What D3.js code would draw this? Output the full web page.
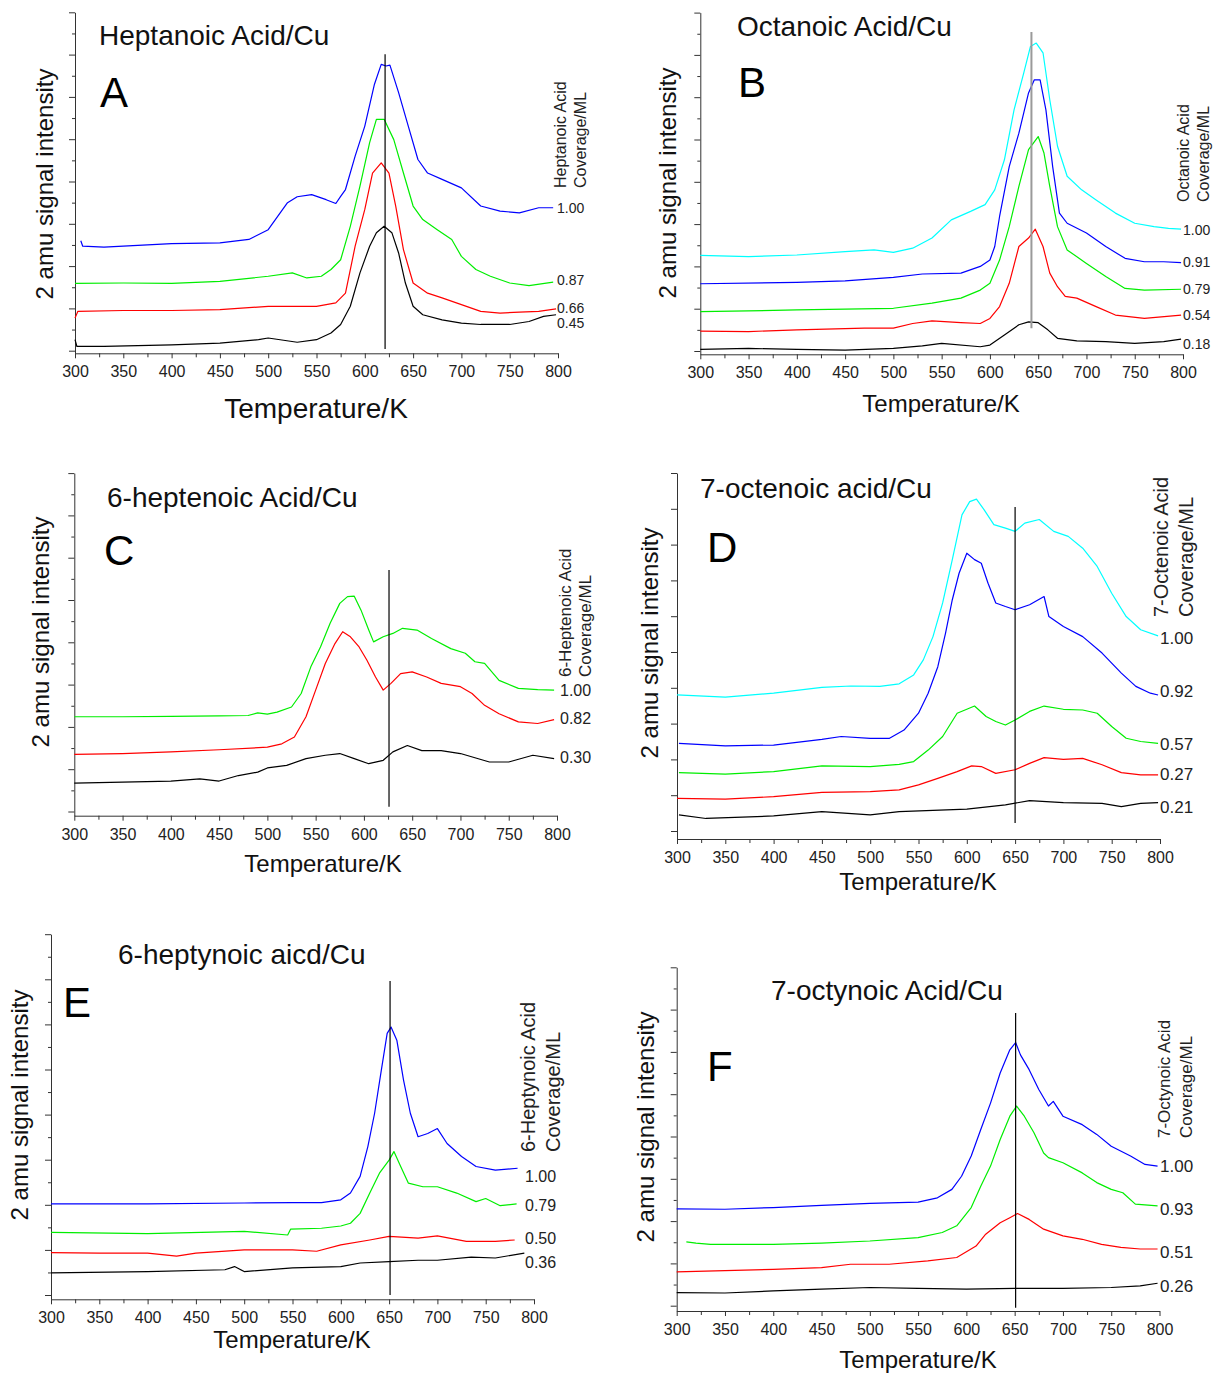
<!DOCTYPE html>
<html><head><meta charset="utf-8">
<script src="https://cdn.jsdelivr.net/npm/d3@7"></script>
<style>
body{margin:0;background:#fff}
svg{display:block}
text{font-family:"Liberation Sans",Arial,Helvetica,sans-serif}
</style>
</head><body>
<svg id="chart" width="1216" height="1374"></svg>
<script>
// ---------------- DATA ----------------
const panelTitles = ["Heptanoic Acid/Cu","Octanoic Acid/Cu","6-heptenoic Acid/Cu","7-octenoic acid/Cu","6-heptynoic aicd/Cu","7-octynoic Acid/Cu"];
const panelLetters = ["A","B","C","D","E","F"];
const legendNames = ["Heptanoic Acid","Octanoic Acid","6-Heptenoic Acid","7-Octenoic Acid","6-Heptynoic Acid","7-Octynoic Acid"];
const legendUnit = "Coverage/ML";
const xLabel = "Temperature/K";
const yLabel = "2 amu signal intensity";
const xTickValues = [300,350,400,450,500,550,600,650,700,750,800];
const peakTemps = [621,643,626,650,651,651];
const peakSpans = [[0.04,7.01],[0.54,7.54],[0.11,5.71],[0.22,9.05],[0.0,6.96],[-0.05,6.92]];

const coverageA = ["1.00","0.87","0.66","0.45"];
const coverageB = ["1.00","0.91","0.79","0.54","0.18"];
const coverageC = ["1.00","0.82","0.30"];
const coverageD = ["1.00","0.92","0.57","0.27","0.21"];
const coverageE = ["1.00","0.79","0.50","0.36"];
const coverageF = ["1.00","0.93","0.51","0.26"];

// Panel A: heptanoic acid  [T (K), intensity (tick units)]
const heptanoic100 = [[306,2.6],[308,2.47],[330,2.45],[350,2.47],[400,2.53],[450,2.55],[480,2.63],[500,2.86],[520,3.5],[530,3.64],[545,3.69],[560,3.57],[570,3.48],[575,3.65],[580,3.81],[590,4.6],[600,5.31],[610,6.3],[617,6.77],[622,6.73],[626,6.75],[635,6.1],[645,5.31],[655,4.52],[665,4.2],[680,4.05],[700,3.85],[720,3.42],[740,3.3],[760,3.26],[780,3.38],[795,3.38]];
const heptanoic087 = [[300,1.59],[350,1.6],[400,1.59],[450,1.64],[500,1.76],[525,1.84],[540,1.72],[555,1.76],[565,1.92],[575,2.15],[585,2.94],[595,3.89],[605,4.92],[612,5.47],[620,5.47],[630,4.99],[640,4.2],[650,3.42],[660,3.1],[675,2.86],[690,2.63],[700,2.23],[715,1.92],[730,1.76],[750,1.6],[770,1.54],[795,1.62]];
const heptanoic066 = [[300,0.77],[303,0.93],[350,0.95],[400,0.95],[450,0.97],[500,1.05],[550,1.05],[570,1.13],[580,1.36],[590,2.47],[600,3.34],[608,4.2],[617,4.44],[625,4.2],[632,3.42],[640,2.39],[650,1.6],[665,1.36],[680,1.25],[700,1.09],[720,0.93],[740,0.89],[760,0.91],[780,0.93],[798,0.99]];
const heptanoic045 = [[300,0.26],[302,0.1],[330,0.1],[400,0.14],[450,0.18],[490,0.26],[500,0.3],[530,0.2],[550,0.26],[565,0.42],[575,0.62],[585,1.05],[595,1.84],[605,2.47],[612,2.79],[620,2.94],[628,2.79],[635,2.31],[642,1.6],[650,1.05],[660,0.85],[680,0.73],[700,0.65],[720,0.62],[750,0.62],[770,0.69],[785,0.81],[798,0.85]];

// Panel B: octanoic acid
const octanoic100 = [[300,2.26],[350,2.23],[400,2.27],[450,2.35],[480,2.39],[500,2.33],[520,2.43],[540,2.67],[560,3.1],[580,3.3],[595,3.46],[605,3.81],[615,4.52],[625,5.7],[635,6.57],[642,7.2],[648,7.28],[655,7.05],[662,5.94],[670,4.84],[680,4.13],[695,3.81],[710,3.57],[730,3.26],[750,3.02],[770,2.94],[785,2.9],[798,2.88]];
const octanoic091 = [[300,1.59],[400,1.62],[450,1.66],[500,1.74],[530,1.82],[570,1.84],[590,2.0],[600,2.15],[605,2.47],[610,3.18],[620,4.36],[630,5.15],[640,6.1],[646,6.41],[652,6.41],[658,5.7],[665,4.36],[672,3.26],[680,3.02],[700,2.79],[720,2.47],[740,2.19],[760,2.11],[780,2.11],[798,2.09]];
const octanoic079 = [[300,0.93],[400,0.97],[500,1.01],[540,1.13],[570,1.25],[590,1.44],[600,1.6],[610,2.15],[620,2.94],[630,3.89],[640,4.76],[650,5.07],[656,4.68],[662,3.89],[670,2.94],[680,2.39],[700,2.07],[720,1.76],[740,1.48],[760,1.44],[798,1.46]];
const octanoic054 = [[300,0.47],[350,0.46],[400,0.5],[470,0.54],[500,0.54],[520,0.65],[540,0.71],[570,0.67],[590,0.65],[600,0.77],[610,1.05],[620,1.6],[630,2.47],[640,2.67],[647,2.88],[655,2.47],[662,1.84],[670,1.52],[678,1.29],[690,1.25],[710,1.05],[730,0.85],[760,0.77],[798,0.85]];
const octanoic018 = [[300,0.04],[350,0.06],[400,0.04],[450,0.02],[500,0.06],[530,0.12],[550,0.18],[590,0.1],[600,0.14],[615,0.38],[630,0.62],[640,0.69],[650,0.67],[660,0.5],[670,0.3],[690,0.24],[720,0.22],[750,0.18],[780,0.22],[798,0.28]];

// Panel C: 6-heptenoic acid
const heptenoic100 = [[300,2.24],[350,2.24],[400,2.25],[450,2.26],[480,2.27],[490,2.33],[500,2.3],[510,2.35],[525,2.47],[535,2.79],[545,3.42],[555,3.89],[565,4.45],[575,4.92],[583,5.08],[590,5.09],[597,4.76],[605,4.29],[610,4.01],[620,4.13],[630,4.21],[640,4.33],[655,4.29],[670,4.09],[690,3.85],[705,3.74],[715,3.54],[725,3.5],[740,3.1],[760,2.91],[780,2.88],[797,2.87]];
const heptenoic082 = [[300,1.35],[350,1.37],[400,1.41],[450,1.46],[500,1.52],[515,1.6],[528,1.76],[540,2.24],[550,2.87],[560,3.5],[570,3.97],[578,4.25],[586,4.13],[595,3.89],[603,3.58],[612,3.18],[620,2.87],[628,3.03],[638,3.26],[650,3.3],[665,3.18],[680,3.03],[700,2.95],[712,2.79],[725,2.51],[740,2.31],[760,2.12],[780,2.08],[797,2.17]];
const heptenoic030 = [[300,0.67],[400,0.72],[430,0.77],[450,0.72],[470,0.85],[490,0.93],[500,1.03],[520,1.09],[540,1.25],[560,1.33],[575,1.37],[590,1.25],[605,1.13],[620,1.21],[630,1.41],[645,1.56],[660,1.44],[680,1.44],[700,1.37],[730,1.17],[750,1.17],[775,1.33],[797,1.25]];

// Panel D: 7-octenoic acid
const octenoic100 = [[300,3.8],[350,3.74],[400,3.85],[450,4.01],[480,4.05],[510,4.04],[530,4.11],[545,4.36],[555,4.78],[565,5.43],[575,6.37],[585,7.58],[595,8.83],[603,9.2],[610,9.27],[618,8.97],[628,8.56],[640,8.46],[650,8.37],[660,8.6],[675,8.7],[690,8.37],[705,8.23],[720,7.9],[735,7.39],[750,6.64],[765,5.99],[780,5.62],[798,5.45]];
const octenoic092 = [[302,2.45],[350,2.38],[400,2.4],[450,2.56],[470,2.64],[500,2.59],[520,2.59],[535,2.82],[550,3.29],[560,3.85],[570,4.59],[578,5.53],[585,6.46],[592,7.2],[600,7.76],[608,7.58],[615,7.48],[622,6.92],[630,6.37],[640,6.27],[650,6.18],[665,6.32],[680,6.55],[685,5.99],[700,5.71],[720,5.43],[740,4.97],[760,4.41],[775,4.04],[790,3.85],[798,3.8]];
const octenoic057 = [[302,1.63],[350,1.59],[400,1.66],[450,1.82],[500,1.8],[530,1.86],[545,1.94],[560,2.26],[575,2.64],[590,3.29],[600,3.4],[608,3.49],[620,3.2],[630,3.06],[640,2.96],[650,3.1],[665,3.34],[680,3.49],[700,3.4],[720,3.38],[735,3.29],[750,2.92],[765,2.59],[780,2.5],[798,2.45]];
const octenoic027 = [[300,0.91],[350,0.89],[400,0.96],[450,1.08],[500,1.1],[530,1.15],[550,1.29],[570,1.47],[590,1.66],[605,1.82],[615,1.8],[630,1.61],[650,1.71],[665,1.89],[680,2.05],[700,2.0],[720,2.03],[740,1.85],[760,1.63],[780,1.57],[798,1.57]];
const octenoic021 = [[302,0.45],[330,0.35],[400,0.42],[450,0.54],[500,0.45],[530,0.54],[600,0.61],[640,0.73],[665,0.85],[700,0.79],[740,0.77],[760,0.68],[780,0.77],[798,0.79]];

// Panel E: 6-heptynoic acid
const heptynoic100 = [[300,2.02],[400,2.02],[500,2.04],[550,2.05],[580,2.05],[600,2.11],[610,2.26],[620,2.63],[628,3.29],[635,4.03],[642,4.99],[648,5.8],[652,5.94],[658,5.65],[665,4.76],[672,4.03],[680,3.51],[690,3.58],[700,3.69],[710,3.36],[725,3.07],[740,2.85],[760,2.77],[783,2.81]];
const heptynoic079 = [[300,1.39],[400,1.36],[500,1.41],[545,1.33],[548,1.46],[580,1.48],[600,1.53],[610,1.59],[620,1.81],[630,2.26],[640,2.7],[650,2.99],[655,3.18],[662,2.85],[670,2.48],[685,2.4],[700,2.4],[720,2.26],[740,2.07],[750,2.14],[765,1.98],[782,2.02]];
const heptynoic050 = [[300,0.94],[350,0.93],[400,0.93],[430,0.86],[450,0.93],[500,1.0],[550,1.0],[575,0.97],[600,1.11],[630,1.22],[650,1.3],[680,1.26],[700,1.31],[730,1.19],[760,1.19],[780,1.22]];
const heptynoic036 = [[300,0.49],[400,0.52],[480,0.56],[490,0.63],[500,0.52],[550,0.6],[600,0.63],[620,0.71],[650,0.74],[680,0.77],[700,0.77],[735,0.84],[760,0.82],[790,0.93]];

// Panel F: 7-octynoic acid
const octynoic100 = [[300,2.29],[350,2.28],[400,2.32],[450,2.37],[500,2.42],[550,2.45],[570,2.55],[585,2.75],[595,3.06],[605,3.54],[615,4.17],[625,4.79],[635,5.5],[645,6.05],[651,6.22],[656,5.93],[665,5.58],[675,5.11],[685,4.72],[690,4.83],[700,4.48],[720,4.28],[735,4.05],[750,3.77],[770,3.54],[785,3.34],[798,3.3]];
const octynoic093 = [[310,1.51],[320,1.48],[335,1.45],[400,1.45],[450,1.48],[500,1.53],[550,1.61],[575,1.73],[590,1.89],[605,2.32],[615,2.83],[625,3.3],[635,3.93],[645,4.48],[652,4.72],[660,4.48],[670,4.09],[680,3.61],[685,3.5],[700,3.38],[720,3.14],[735,2.91],[750,2.75],[762,2.67],[775,2.4],[798,2.36]];
const octynoic051 = [[300,0.8],[350,0.83],[400,0.86],[450,0.9],[480,0.98],[520,0.98],[560,1.06],[590,1.14],[610,1.41],[620,1.69],[635,1.96],[645,2.08],[653,2.18],[665,2.04],[680,1.81],[700,1.65],[720,1.57],[740,1.45],[760,1.38],[780,1.34],[798,1.34]];
const octynoic026 = [[300,0.31],[350,0.3],[400,0.35],[450,0.39],[500,0.43],[550,0.41],[600,0.39],[650,0.41],[700,0.41],[750,0.43],[780,0.47],[798,0.53]];

const seriesA = [heptanoic100, heptanoic087, heptanoic066, heptanoic045];
const seriesB = [octanoic100, octanoic091, octanoic079, octanoic054, octanoic018];
const seriesC = [heptenoic100, heptenoic082, heptenoic030];
const seriesD = [octenoic100, octenoic092, octenoic057, octenoic027, octenoic021];
const seriesE = [heptynoic100, heptynoic079, heptynoic050, heptynoic036];
const seriesF = [octynoic100, octynoic093, octynoic051, octynoic026];

// ---------------- STYLE / LAYOUT ----------------
const C = {blue:"#0000ff", green:"#00ee00", red:"#ff0000", black:"#000000", cyan:"#00ffff"};
const colorsA = [C.blue, C.green, C.red, C.black];
const colorsB = [C.cyan, C.blue, C.green, C.red, C.black];
const colorsC = [C.green, C.red, C.black];
const colorsD = [C.cyan, C.blue, C.green, C.red, C.black];
const colorsE = [C.blue, C.green, C.red, C.black];
const colorsF = [C.blue, C.green, C.red, C.black];

const layout = [
 {left:75, right:558, axisY:353.3, tick0Y:350.7, unit:42.3, nMajor:8, minor:true,
  titleX:99, titleY:45, letterX:100, letterY:107, ylabX:53, ylabY:184, xlabX:316, xlabY:418, xlabSize:28,
  legX1:566, legX2:586, legY:188, legSize:16, covX:557, covY:[208,280,308,323], covSize:14, vColor:"#000", vWidth:1.2},
 {left:700.3, right:1183, axisY:354.3, tick0Y:351, unit:42.3, nMajor:8, minor:true,
  titleX:737, titleY:36, letterX:738, letterY:97, ylabX:676, ylabY:183, xlabX:941, xlabY:412, xlabSize:24,
  legX1:1189, legX2:1209, legY:202, legSize:16, covX:1183, covY:[230,262,289,315,344], covSize:14, vColor:"#9a9a9a", vWidth:2},
 {left:74.3, right:557, axisY:815.7, tick0Y:811.5, unit:42.3, nMajor:8, minor:true,
  titleX:107, titleY:507, letterX:104, letterY:565, ylabX:49, ylabY:632, xlabX:323, xlabY:872, xlabSize:24,
  legX1:571, legX2:591, legY:677, legSize:17, covX:560, covY:[690,718,757], covSize:16, vColor:"#000", vWidth:1.2},
 {left:677, right:1160, axisY:839, tick0Y:831, unit:35.8, nMajor:10, minor:false,
  titleX:700, titleY:498, letterX:707, letterY:562, ylabX:658, ylabY:643, xlabX:918, xlabY:890, xlabSize:24,
  legX1:1168, legX2:1193, legY:617, legSize:20, covX:1160, covY:[638,691,744,774,807], covSize:17, vColor:"#000", vWidth:1.2},
 {left:51, right:534, axisY:1299.3, tick0Y:1295, unit:45.1, nMajor:8, minor:true,
  titleX:118, titleY:964, letterX:63, letterY:1017, ylabX:28, ylabY:1105, xlabX:292, xlabY:1348, xlabSize:24,
  legX1:535, legX2:560, legY:1152, legSize:20, covX:525, covY:[1176,1205,1238,1262], covSize:16, vColor:"#000", vWidth:1.2},
 {left:676.7, right:1159.5, axisY:1311, tick0Y:1305.7, unit:42.3, nMajor:8, minor:true,
  titleX:771, titleY:1000, letterX:707, letterY:1081, ylabX:654, ylabY:1127, xlabX:918, xlabY:1368, xlabSize:24,
  legX1:1170, legX2:1192, legY:1138, legSize:17, covX:1160, covY:[1166,1209,1252,1286], covSize:17, vColor:"#000", vWidth:1.2}
];

const allSeries = [seriesA, seriesB, seriesC, seriesD, seriesE, seriesF];
const allColors = [colorsA, colorsB, colorsC, colorsD, colorsE, colorsF];
const allCoverage = [coverageA, coverageB, coverageC, coverageD, coverageE, coverageF];

// ---------------- DRAW ----------------
const svg = d3.select("#chart");
const axisColor = "#333";

layout.forEach((p, i) => {
  const g = svg.append("g");
  const x = d3.scaleLinear().domain([300, 800]).range([p.left, p.right]);
  const vmin = (p.tick0Y - p.axisY) / p.unit;
  const yTop = p.tick0Y - p.nMajor * p.unit;
  const y = d3.scaleLinear().domain([vmin, p.nMajor]).range([p.axisY, yTop]);

  // x axis
  const xTicksAll = d3.range(300, 801, 25);
  const xa = d3.axisBottom(x).tickValues(xTicksAll).tickSize(5).tickSizeOuter(0)
    .tickFormat(d => xTickValues.includes(d) ? d : "");
  const gx = g.append("g").attr("transform", `translate(0,${p.axisY})`).call(xa);
  gx.select(".domain").attr("stroke", axisColor);
  gx.selectAll(".tick line").attr("stroke", axisColor).attr("y2", d => d % 50 === 0 ? 5 : 4);
  gx.selectAll(".tick text").attr("y", 24).attr("dy", 0)
    .attr("font-size", 16).attr("fill", "#222").attr("font-family", '"Liberation Sans",Arial,sans-serif');

  // y axis
  const yTicks = [];
  for (let k = 0; k <= p.nMajor; k++) {
    yTicks.push(k);
    if (p.minor && k < p.nMajor) yTicks.push(k + 0.5);
  }
  const ya = d3.axisLeft(y).tickValues(yTicks).tickSize(6).tickSizeOuter(0).tickFormat("");
  const gy = g.append("g").attr("transform", `translate(${p.left},0)`).call(ya);
  gy.select(".domain").attr("stroke", axisColor);
  gy.selectAll(".tick line").attr("stroke", axisColor).attr("x2", d => Number.isInteger(d) ? -6 : -3);

  // curves
  const line = d3.line().x(d => x(d[0])).y(d => y(d[1]));
  allSeries[i].forEach((s, j) => {
    g.append("path").datum(s).attr("d", line)
      .attr("fill", "none").attr("stroke", allColors[i][j])
      .attr("stroke-width", 1.2).attr("stroke-linejoin", "round");
  });

  // vertical reference line
  g.append("line")
    .attr("x1", x(peakTemps[i])).attr("x2", x(peakTemps[i]))
    .attr("y1", y(peakSpans[i][0])).attr("y2", y(peakSpans[i][1]))
    .attr("stroke", p.vColor).attr("stroke-width", p.vWidth);

  // coverage labels
  allCoverage[i].forEach((c, j) => {
    g.append("text").attr("x", p.covX).attr("y", p.covY[j]).attr("dy", "0.35em")
      .attr("font-size", p.covSize).attr("fill", "#222").text(c);
  });

  // legend (rotated)
  g.append("text").attr("transform", `translate(${p.legX1},${p.legY}) rotate(-90)`)
    .attr("font-size", p.legSize).attr("fill", "#222").text(legendNames[i]);
  g.append("text").attr("transform", `translate(${p.legX2},${p.legY}) rotate(-90)`)
    .attr("font-size", p.legSize).attr("fill", "#222").text(legendUnit);

  // title & letter
  g.append("text").attr("x", p.titleX).attr("y", p.titleY).attr("font-size", 28).attr("fill", "#111").text(panelTitles[i]);
  g.append("text").attr("x", p.letterX).attr("y", p.letterY).attr("font-size", 42).attr("fill", "#000").text(panelLetters[i]);

  // axis labels
  g.append("text").attr("x", p.xlabX).attr("y", p.xlabY).attr("text-anchor", "middle")
    .attr("font-size", p.xlabSize).attr("fill", "#111").text(xLabel);
  g.append("text").attr("transform", `translate(${p.ylabX},${p.ylabY}) rotate(-90)`)
    .attr("text-anchor", "middle").attr("font-size", 24).attr("fill", "#111").text(yLabel);
});
</script>
</body></html>
